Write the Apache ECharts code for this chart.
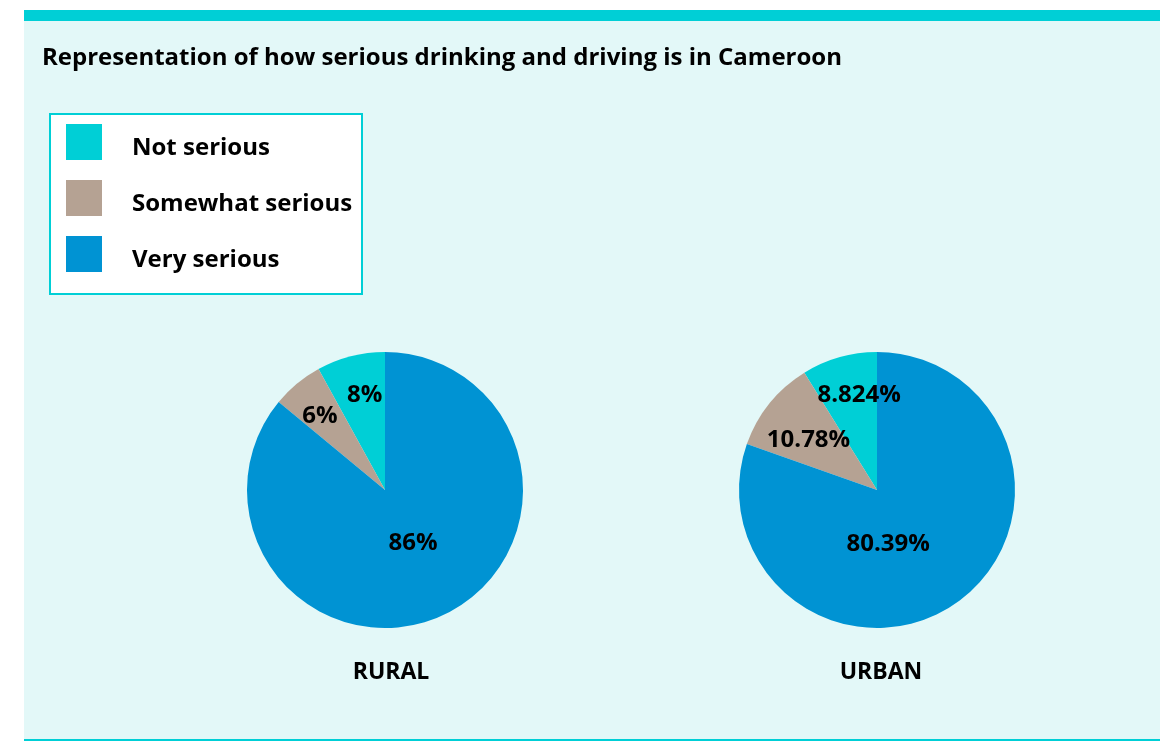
<!DOCTYPE html>
<html><head><meta charset="utf-8">
<script src="https://cdn.jsdelivr.net/npm/echarts@6/dist/echarts.min.js"></script>
<style>html,body{margin:0;padding:0;background:#fff}#c{width:1160px;height:741px}</style>
</head><body><div id="c"></div>
<script>
const titleText = 'Representation of how serious drinking and driving is in Cameroon';
const categories = ['Not serious', 'Somewhat serious', 'Very serious'];
const colors = ['#00cfd6', '#b5a293', '#0093d3'];
const groups = ['RURAL', 'URBAN'];
const rural = [8, 6, 86];
const urban = [8.824, 10.78, 80.39];
const valueLabels = [['8%', '6%', '86%'], ['8.824%', '10.78%', '80.39%']];

const FONT = '"Open Sans", sans-serif';
const centers = [[385, 490], [877, 490]];
const R = 138;
// small label nudges to mimic the original's label placement
const nudges = [[[5, 4], [0, 5], [2, -2]], [[10, 3], [11, 14], [-24, 4]]];

function build(vals, gi, kind) {
  return vals.map((v, i) => {
    const big = v === Math.max(...vals);
    let show = false;
    if (kind === 'outer') show = !big;
    if (kind === 'inner') show = big;
    return {
      value: v, name: categories[i],
      label: { show: show, formatter: valueLabels[gi][i], offset: nudges[gi][i] }
    };
  });
}

const series = [];
[rural, urban].forEach((vals, gi) => {
  series.push({
    type: 'pie', center: centers[gi], radius: [0, R], startAngle: 90, clockwise: false,
    silent: true, animation: false,
    itemStyle: { borderWidth: 0 },
    label: { show: false }, labelLine: { show: false },
    data: vals.map((v, i) => ({ value: v, name: categories[i] }))
  });
  series.push({
    type: 'pie', center: centers[gi], radius: [0, 198], startAngle: 90, clockwise: false,
    silent: true, animation: false, legendHoverLink: false,
    itemStyle: { color: 'rgba(0,0,0,0)' },
    label: { position: 'inside', color: '#000', fontFamily: FONT, fontWeight: 'bold', fontSize: 24 },
    labelLine: { show: false },
    data: build(vals, gi, 'outer')
  });
  series.push({
    type: 'pie', center: centers[gi], radius: [0, 116], startAngle: 90, clockwise: false,
    silent: true, animation: false, legendHoverLink: false,
    itemStyle: { color: 'rgba(0,0,0,0)' },
    label: { position: 'inside', color: '#000', fontFamily: FONT, fontWeight: 'bold', fontSize: 24 },
    labelLine: { show: false },
    data: build(vals, gi, 'inner')
  });
});

const chart = echarts.init(document.getElementById('c'), null, { renderer: 'canvas' });
chart.setOption({
  color: colors,
  animation: false,
  title: [
    { text: titleText, left: 42, top: 46, padding: 0, textStyle: { fontFamily: FONT, fontWeight: 'bold', fontSize: 24, color: '#000' } },
    { text: groups[0], left: 391, top: 661, padding: 0, textAlign: 'center', textStyle: { fontFamily: FONT, fontWeight: 'bold', fontSize: 23, color: '#000' } },
    { text: groups[1], left: 881, top: 661, padding: 0, textAlign: 'center', textStyle: { fontFamily: FONT, fontWeight: 'bold', fontSize: 23, color: '#000' } }
  ],
  graphic: [
    { type: 'rect', z: -10, shape: { x: 24, y: 10, width: 1136, height: 11 }, style: { fill: '#00cfd6' } },
    { type: 'rect', z: -10, shape: { x: 24, y: 21, width: 1136, height: 718 }, style: { fill: '#e3f8f8' } },
    { type: 'rect', z: -10, shape: { x: 24, y: 739, width: 1136, height: 2 }, style: { fill: '#00cfd6' } },
    { type: 'rect', z: -5, shape: { x: 50, y: 114, width: 312, height: 180 }, style: { fill: '#fff', stroke: '#00cfd6', lineWidth: 2 } }
  ],
  legend: {
    orient: 'vertical', left: 49, top: 113, padding: [11, 0, 0, 17],
    itemWidth: 36, itemHeight: 36, itemGap: 20,
    icon: 'rect', selectedMode: false,
    data: categories,
    formatter: name => '{t|' + name + '}',
    textStyle: {
      fontFamily: FONT, fontWeight: 'bold', fontSize: 24, color: '#000', padding: [0, 0, 0, 25],
      rich: { t: { fontFamily: FONT, fontWeight: 'bold', fontSize: 24, color: '#000', padding: [12, 0, 0, 0] } }
    }
  },
  series: series
});
</script></body></html>
